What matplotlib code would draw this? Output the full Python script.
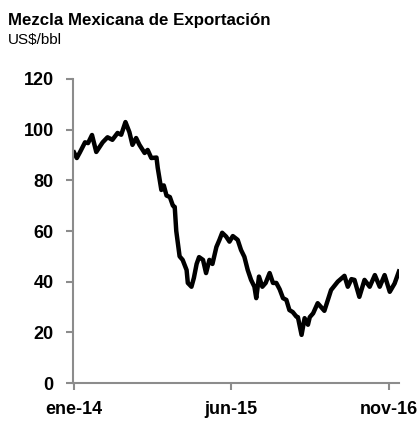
import matplotlib
matplotlib.use("Agg")
import matplotlib.pyplot as plt
import pandas as pd

plt.rcParams['font.family'] = ['Liberation Sans', 'DejaVu Sans']

title = "Mezcla Mexicana de Exportación"
subtitle = "US$/bbl"

dates = [
    "2014-01-01", "2014-01-10", "2014-01-20", "2014-02-06", "2014-02-16", "2014-03-01",
    "2014-03-15", "2014-04-05", "2014-04-21", "2014-05-07", "2014-05-24", "2014-06-05",
    "2014-06-19", "2014-07-02", "2014-07-12", "2014-07-24", "2014-08-04", "2014-08-21",
    "2014-08-31", "2014-09-12", "2014-09-29", "2014-10-03", "2014-10-15", "2014-10-23",
    "2014-11-01", "2014-11-12", "2014-11-22", "2014-11-28", "2014-12-03", "2014-12-14",
    "2014-12-24", "2015-01-06", "2015-01-10", "2015-01-22", "2015-01-30", "2015-02-08",
    "2015-02-16", "2015-03-01", "2015-03-11", "2015-03-22", "2015-04-01", "2015-04-14",
    "2015-04-24", "2015-05-03", "2015-05-16", "2015-05-27", "2015-06-07", "2015-06-23",
    "2015-07-04", "2015-07-15", "2015-07-26", "2015-08-06", "2015-08-17", "2015-08-23",
    "2015-09-01", "2015-09-12", "2015-09-23", "2015-10-06", "2015-10-17", "2015-10-28",
    "2015-11-08", "2015-11-19", "2015-11-30", "2015-12-10", "2015-12-21", "2016-01-02",
    "2016-01-07", "2016-01-19", "2016-01-29", "2016-02-09", "2016-02-15", "2016-02-26",
    "2016-03-12", "2016-04-03", "2016-04-25", "2016-05-17", "2016-06-08", "2016-06-19",
    "2016-07-01", "2016-07-11", "2016-07-27", "2016-08-13", "2016-08-30", "2016-09-16",
    "2016-10-02", "2016-10-18", "2016-11-04", "2016-11-20", "2016-12-04",
]
prices = [
    91.0, 88.8, 91.0, 95.0, 94.7, 97.9,
    91.2, 95.0, 97.0, 96.0, 98.7, 98.0,
    103.0, 99.0, 94.0, 96.7, 94.0, 90.8,
    92.0, 88.8, 89.0, 85.0, 76.2, 78.0,
    74.0, 73.4, 70.0, 69.5, 60.0, 50.0,
    48.6, 44.6, 39.5, 38.0, 41.5, 47.0,
    49.7, 48.6, 43.4, 48.6, 47.0, 53.7,
    56.5, 59.3, 57.8, 55.8, 58.0, 56.5,
    52.5, 49.8, 44.6, 40.7, 38.0, 33.5,
    42.0, 38.0, 39.5, 43.4, 39.5, 39.5,
    37.0, 33.5, 32.8, 28.8, 28.0, 26.2,
    26.0, 19.0, 25.6, 23.0, 26.0, 27.5,
    31.5, 28.5, 36.7, 40.0, 42.3, 38.0,
    41.0, 40.7, 34.0, 40.7, 38.0, 42.6,
    38.0, 42.6, 36.0, 39.3, 44.0,
]
tick_dates = ["2014-01-01", "2015-06-01", "2016-11-01"]
tick_labels = ["ene-14", "jun-15", "nov-16"]
y_ticks = [0, 20, 40, 60, 80, 100, 120]

x = pd.to_datetime(dates)

fig = plt.figure(figsize=(4.18, 4.22), dpi=100)
ax = fig.add_axes([0.175, 0.0924, 0.78, 0.7204])
ax.plot(x, prices, color="black", lw=3.2, solid_joinstyle="round")

ax.set_ylim(0, 120)
ax.set_yticks(y_ticks)
ax.set_xlim(pd.Timestamp("2013-12-29"), pd.Timestamp("2016-12-05"))
ax.set_xticks(pd.to_datetime(tick_dates))
ax.set_xticklabels(tick_labels)

for s in ["top", "right"]:
    ax.spines[s].set_visible(False)
for s in ["left", "bottom"]:
    ax.spines[s].set_color("#8c8c8c")
    ax.spines[s].set_linewidth(1.5)
ax.tick_params(axis="both", color="#8c8c8c", width=1.5, length=5, labelsize=13)
ax.tick_params(axis="y", pad=9)
ax.tick_params(axis="x", pad=8)
for lab in ax.get_xticklabels() + ax.get_yticklabels():
    lab.set_fontweight("bold")

fig.text(8 / 418, 1 - 20 / 422, title, fontsize=12.2, fontweight="bold", va="center", ha="left")
fig.text(8 / 418, 1 - 40 / 422, subtitle, fontsize=11, va="center", ha="left")

fig.savefig("out.png", dpi=100)
